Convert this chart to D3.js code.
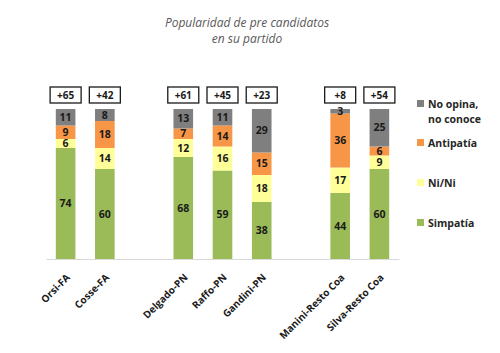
<!DOCTYPE html>
<html><head><meta charset="utf-8">
<script src="https://cdn.jsdelivr.net/npm/d3@7"></script>
<style>body{margin:0;background:#fff}svg{display:block}text{font-family:"Open Sans","Liberation Sans",sans-serif}</style>
</head><body><svg id="c" width="500" height="353"></svg>
<script>
const slots = ["Orsi-FA","Cosse-FA","_g1","Delgado-PN","Raffo-PN","Gandini-PN","_g2","Manini-Resto Coa","Silva-Resto Coa"];
const candidates = ["Orsi-FA","Cosse-FA","Delgado-PN","Raffo-PN","Gandini-PN","Manini-Resto Coa","Silva-Resto Coa"];
const simpatia = [74,60,68,59,38,44,60];
const nini = [6,14,12,16,18,17,9];
const antipatia = [9,18,7,14,15,36,6];
const noOpina = [11,8,13,11,29,3,25];
const balance = ["+65","+42","+61","+45","+23","+8","+54"];
const seriesNames = ["Simpatía","Ni/Ni","Antipatía","No opina, no conoce"];
const colors = ["#9bbb59","#ffff99","#f79646","#7f7f7f"];

const svg = d3.select("#c");
const x = d3.scaleBand().domain(slots).range([46,399]).paddingInner(0.5).paddingOuter(0.25);
const y = d3.scaleLinear().domain([0,100]).range([259,109]);

svg.append("text").attr("x",247).attr("y",27).attr("text-anchor","middle")
  .attr("font-style","italic").attr("font-size",12).attr("fill","#595959").text("Popularidad de pre candidatos");
svg.append("text").attr("x",247).attr("y",43).attr("text-anchor","middle")
  .attr("font-style","italic").attr("font-size",12).attr("fill","#595959").text("en su partido");

const rows = candidates.map((c,i)=>({cand:c, "Simpatía":simpatia[i], "Ni/Ni":nini[i], "Antipatía":antipatia[i], "No opina, no conoce":noOpina[i]}));
const stack = d3.stack().keys(seriesNames)(rows);

stack.forEach((s,si)=>{
  const g = svg.append("g");
  g.selectAll("rect").data(s).join("rect")
    .attr("x",d=>x(d.data.cand)).attr("width",x.bandwidth())
    .attr("y",d=>y(d[1])).attr("height",d=>y(d[0])-y(d[1]))
    .attr("fill",colors[si]);
  g.selectAll("text").data(s).join("text")
    .attr("x",d=>x(d.data.cand)+x.bandwidth()/2)
    .attr("y",d=>(y(d[0])+y(d[1]))/2+3.5)
    .attr("text-anchor","middle").attr("font-size",10.5).attr("font-weight","bold").attr("fill","#1a1a1a")
    .text(d=>d[1]-d[0]);
});

// axis
const axis = d3.axisBottom(x).tickSize(0).tickFormat(d=>d.startsWith("_")?"":d);
const ax = svg.append("g").attr("transform","translate(0,259)").call(axis);
ax.select(".domain").attr("stroke","#d9d9d9");
ax.selectAll("text").attr("font-size",10).attr("font-weight","bold").attr("fill","#1a1a1a")
  .attr("text-anchor","end").attr("dy",0)
  .attr("transform","translate(3,17) rotate(-45)");

// balance boxes
const bw = 31, bh = 16;
candidates.forEach((c,i)=>{
  const cx = x(c)+x.bandwidth()/2;
  svg.append("rect").attr("x",cx-bw/2).attr("y",87).attr("width",bw).attr("height",bh)
    .attr("fill","#fff").attr("stroke","#1a1a1a").attr("stroke-width",1.3);
  svg.append("text").attr("x",cx).attr("y",99).attr("text-anchor","middle")
    .attr("font-size",10).attr("font-weight","bold").attr("fill","#1a1a1a").text(balance[i]);
});

// legend
const legend = [
  {name:"No opina,", name2:"no conoce", color:colors[3], y:104},
  {name:"Antipatía", color:colors[2], y:143},
  {name:"Ni/Ni", color:colors[1], y:183},
  {name:"Simpatía", color:colors[0], y:223}
];
legend.forEach(l=>{
  svg.append("rect").attr("x",417).attr("y",l.y-4).attr("width",7).attr("height",7).attr("fill",l.color);
  svg.append("text").attr("x",428).attr("y",l.y+3.5).attr("font-size",10.5).attr("font-weight","bold").attr("fill","#262626").text(l.name);
  if(l.name2) svg.append("text").attr("x",428).attr("y",l.y+18.5).attr("font-size",10.5).attr("font-weight","bold").attr("fill","#262626").text(l.name2);
});
</script></body></html>
